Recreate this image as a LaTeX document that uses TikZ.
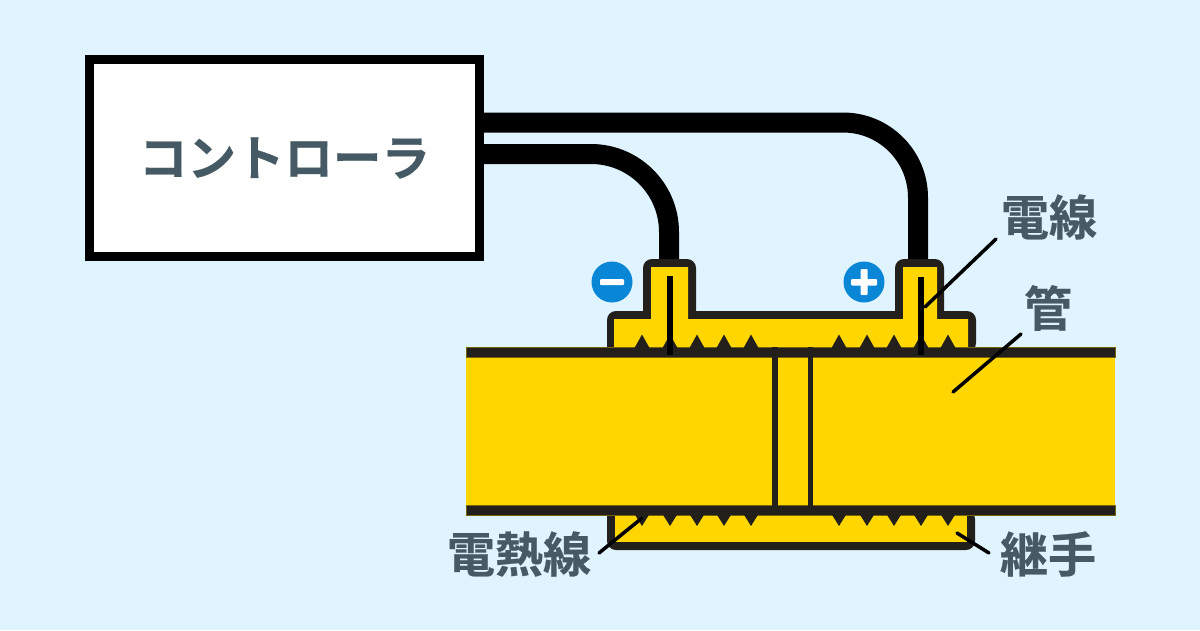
\documentclass[tikz,border=0pt]{standalone}
\usepackage{fontspec}
\newfontfamily\jpb[FakeBold=0.5]{Noto Sans CJK JP Bold}
\definecolor{bgc}{HTML}{E0F4FF}
\definecolor{yel}{HTML}{FFD600}
\definecolor{dk}{HTML}{231F1A}
\definecolor{txtc}{HTML}{455A64}
\definecolor{blu}{HTML}{0A86D6}
\tikzset{
  wirethick/.style={line width=20pt,draw=black},
  wirethin/.style={line width=6pt,draw=black},
  leader/.style={line width=3.5pt,draw=black,line cap=round},
  label/.style={font=\jpb\fontsize{48}{48}\selectfont,text=txtc,inner sep=0pt,anchor=center},
  band/.style={fill=dk,draw=black!40!yel!70!dk,line width=0.6pt},
  spike/.style={fill=dk,draw=none},
  badge/.style={circle,fill=blu,minimum size=41pt,inner sep=0pt},
  sign/.style={fill=white,rounded corners=1pt,draw=none},
}
\begin{document}
\begin{tikzpicture}[x=1pt,y=-1pt]
\useasboundingbox (0,0) rectangle (1200,630);
\fill[bgc] (0,0) rectangle (1200,630);
% controller
\node[draw=black,fill=white,line width=9pt,outer sep=0pt,minimum width=390pt,minimum height=197pt,inner sep=0pt,anchor=north west,font=\jpb\fontsize{48.5}{48.5}\selectfont,text=txtc] (ctl) at (89.5,59.5) {\raisebox{-1pt}{コントローラ}};
% wires
\coordinate (wpS) at (484,122.5);
\coordinate (wpE) at (918,262);
\coordinate (wmS) at (484,154);
\coordinate (wmE) at (669,262);
\draw[wirethick,rounded corners=75pt] (wpS) -- (918,122.5) -- (wpE);
\draw[wirethick,rounded corners=78pt] (wmS) -- (669,154) -- (wmE);
% joint
\fill[dk] (607,352) [rounded corners=9pt] -- (607,311) [sharp corners] -- (643,311) [rounded corners=9pt] -- (643,259) -- (696,259) [sharp corners] -- (696,311) -- (895,311) [rounded corners=9pt] -- (895,259) -- (944,259) [sharp corners] -- (944,311) [rounded corners=9pt] -- (976,311) -- (976,352) [sharp corners] -- cycle;
\fill[yel] (614,352) -- (614,319) -- (651,319) -- (651,267) -- (688,267) -- (688,319) -- (903,319) -- (903,267) -- (937,267) -- (937,319) -- (968,319) -- (968,352) -- cycle;
\fill[dk,rounded corners=9pt] (607,510) -- (607,550) -- (975,550) -- (975,510) [sharp corners] -- cycle;
\fill[yel] (615,510) rectangle (967,542);
% pipe
\fill[yel] (466,352) rectangle (1115,510);
\draw[band] (466,347.5) rectangle (1115,357.5);
\draw[band] (466,505) rectangle (1115,515);
\fill[dk] (772,347) rectangle (778,513);
\fill[dk] (808,347) rectangle (813,513);
% spikes
\foreach \x in {642,670,697,724,751,839,867,894,921,948}{
  \fill[spike] (\x-7.5,348) -- (\x,334.5) -- (\x+7.5,348) -- cycle;
  \fill[spike] (\x-7.5,514) -- (\x,526) -- (\x+7.5,514) -- cycle;
}
% inner wires
\coordinate (imT) at (669.5,276);
\coordinate (imB) at (669.5,355);
\coordinate (ipT) at (920.5,277);
\coordinate (ipB) at (920.5,355);
\draw[wirethin] (imT) -- (imB);
\draw[wirethin] (ipT) -- (ipB);
% badges
\node[badge] (minus) at (612,282) {};
\fill[sign] (600,279) rectangle (624,285);
\node[badge] (plus) at (864,282) {};
\fill[sign] (851,279) rectangle (877,285.5);
\fill[sign] (860.5,269) rectangle (867.5,295);
% labels
\node[label] (ld) at (1049,217) {電線};
\node[label] (lk) at (1048,308) {管};
\node[label] (lh) at (519,554) {電熱線};
\node[label] (lj) at (1048,554) {継手};
% leaders
\coordinate (a1) at (996,239); \coordinate (a2) at (925,307);
\coordinate (b1) at (1021,334); \coordinate (b2) at (953,392);
\coordinate (c1) at (599,553); \coordinate (c2) at (642,518);
\coordinate (d1) at (957,533); \coordinate (d2) at (989,553);
\draw[leader] (a1) -- (a2);
\draw[leader] (b1) -- (b2);
\draw[leader] (c1) -- (c2);
\draw[leader] (d1) -- (d2);
\end{tikzpicture}
\end{document}
